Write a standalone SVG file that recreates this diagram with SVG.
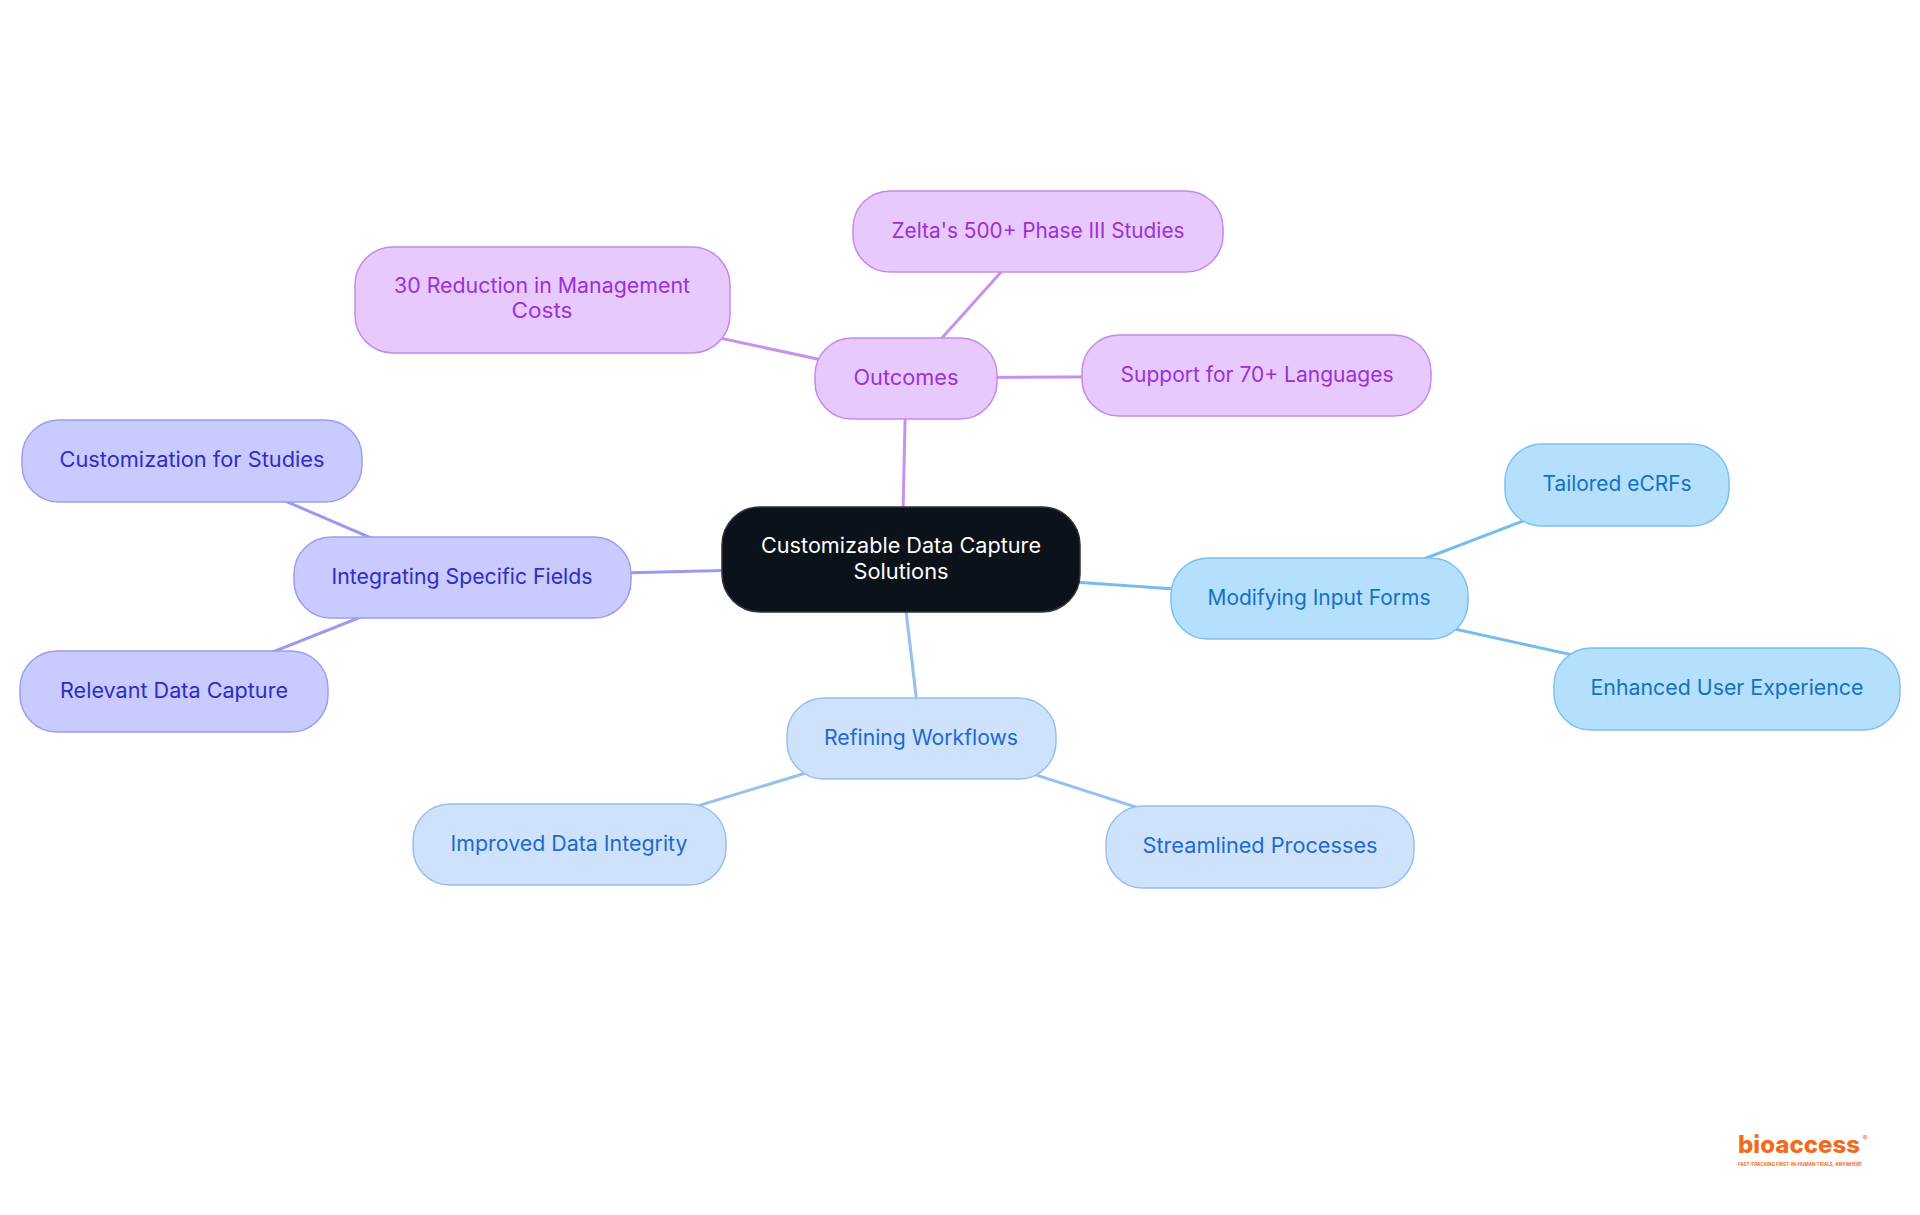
<svg xmlns="http://www.w3.org/2000/svg" width="1920" height="1215" viewBox="0 0 1920 1215">
<style>
text{font-family:Inter,"Open Sans","Liberation Sans",sans-serif;font-size:21px;text-anchor:middle}
.e{fill:none;stroke-width:3;stroke-linecap:round}
.ep{stroke:#c692ec}.ei{stroke:#9c9af0}.es{stroke:#76bdee}.eb{stroke:#96c0ee}
.n rect{stroke-width:1.5}
.p rect{fill:#e7c9fd;stroke:#c48ae9}.p text{fill:#9a30d6}
.i rect{fill:#c9caff;stroke:#9c9cf0}.i text{fill:#2e2cc4}
.s rect{fill:#b4e0fd;stroke:#7cc0ee}.s text{fill:#1670c2}
.b rect{fill:#cee3fb;stroke:#96bfed}.b text{fill:#1c69d0}
.c rect{fill:#0c121a;stroke:#2e333b}.c text{fill:#ffffff}
</style>
<rect width="1920" height="1215" fill="#ffffff"/>
<g id="connectors">
<line class="e ep" x1="902" y1="560" x2="906" y2="378"/>
<line class="e ep" x1="906" y1="378" x2="1038" y2="231"/>
<line class="e ep" x1="906" y1="378" x2="542" y2="300"/>
<line class="e ep" x1="906" y1="378" x2="1257" y2="376"/>
<line class="e ei" x1="901" y1="566" x2="462" y2="577"/>
<line class="e ei" x1="462" y1="577" x2="192" y2="461"/>
<line class="e ei" x1="462" y1="577" x2="174" y2="691"/>
<line class="e es" x1="901" y1="570" x2="1319" y2="599"/>
<line class="e es" x1="1319" y1="599" x2="1617" y2="485"/>
<line class="e es" x1="1319" y1="599" x2="1727" y2="689"/>
<line class="e eb" x1="900" y1="560" x2="921" y2="738"/>
<line class="e eb" x1="921" y1="738" x2="569" y2="845"/>
<line class="e eb" x1="921" y1="738" x2="1260" y2="847"/>
</g>
<g id="center" class="n c"><rect x="722" y="507" width="358" height="105" rx="38"/><text x="901" y="553" textLength="280" lengthAdjust="spacingAndGlyphs">Customizable Data Capture</text><text x="901" y="579" textLength="95" lengthAdjust="spacingAndGlyphs">Solutions</text></g>
<g id="outcomes" class="n p"><rect x="815" y="338" width="182" height="81" rx="37"/><text x="906" y="385" textLength="105" lengthAdjust="spacingAndGlyphs">Outcomes</text></g>
<g id="zelta" class="n p"><rect x="853" y="191" width="370" height="81" rx="37"/><text x="1038" y="238" textLength="293" lengthAdjust="spacingAndGlyphs">Zelta's 500+ Phase III Studies</text></g>
<g id="reduction" class="n p"><rect x="355" y="247" width="375" height="106" rx="38"/><text x="542" y="293" textLength="296" lengthAdjust="spacingAndGlyphs">30 Reduction in Management</text><text x="542" y="318" textLength="61" lengthAdjust="spacingAndGlyphs">Costs</text></g>
<g id="languages" class="n p"><rect x="1082" y="335" width="349" height="81" rx="37"/><text x="1257" y="382" textLength="273" lengthAdjust="spacingAndGlyphs">Support for 70+ Languages</text></g>
<g id="integrating" class="n i"><rect x="294" y="537" width="337" height="81" rx="37"/><text x="462" y="584" textLength="261" lengthAdjust="spacingAndGlyphs">Integrating Specific Fields</text></g>
<g id="customization" class="n i"><rect x="22" y="420" width="340" height="82" rx="37"/><text x="192" y="467" textLength="265" lengthAdjust="spacingAndGlyphs">Customization for Studies</text></g>
<g id="relevant" class="n i"><rect x="20" y="651" width="308" height="81" rx="37"/><text x="174" y="698" textLength="228" lengthAdjust="spacingAndGlyphs">Relevant Data Capture</text></g>
<g id="modifying" class="n s"><rect x="1171" y="558" width="297" height="81" rx="37"/><text x="1319" y="605" textLength="223" lengthAdjust="spacingAndGlyphs">Modifying Input Forms</text></g>
<g id="tailored" class="n s"><rect x="1505" y="444" width="224" height="82" rx="37"/><text x="1617" y="491" textLength="149" lengthAdjust="spacingAndGlyphs">Tailored eCRFs</text></g>
<g id="enhanced" class="n s"><rect x="1554" y="648" width="346" height="82" rx="37"/><text x="1727" y="695" textLength="273" lengthAdjust="spacingAndGlyphs">Enhanced User Experience</text></g>
<g id="refining" class="n b"><rect x="787" y="698" width="269" height="81" rx="37"/><text x="921" y="745" textLength="194" lengthAdjust="spacingAndGlyphs">Refining Workflows</text></g>
<g id="improved" class="n b"><rect x="413" y="804" width="313" height="81" rx="37"/><text x="569" y="851" textLength="237" lengthAdjust="spacingAndGlyphs">Improved Data Integrity</text></g>
<g id="streamlined" class="n b"><rect x="1106" y="806" width="308" height="82" rx="37"/><text x="1260" y="853" textLength="235" lengthAdjust="spacingAndGlyphs">Streamlined Processes</text></g>
<g id="logo">
<text x="1799" y="1153" style="font-family:Inter,'Liberation Sans',sans-serif;font-size:24px;font-weight:800;fill:#f26b1d" textLength="122" lengthAdjust="spacingAndGlyphs">bioaccess</text>
<text x="1865" y="1141" style="font-size:7px;fill:#f26b1d">®</text>
<text x="1800" y="1166" style="font-size:4.5px;font-weight:700;fill:#f26b1d" textLength="124" lengthAdjust="spacingAndGlyphs">FAST-TRACKING FIRST-IN-HUMAN TRIALS, ANYWHERE</text>
</g>
</svg>
